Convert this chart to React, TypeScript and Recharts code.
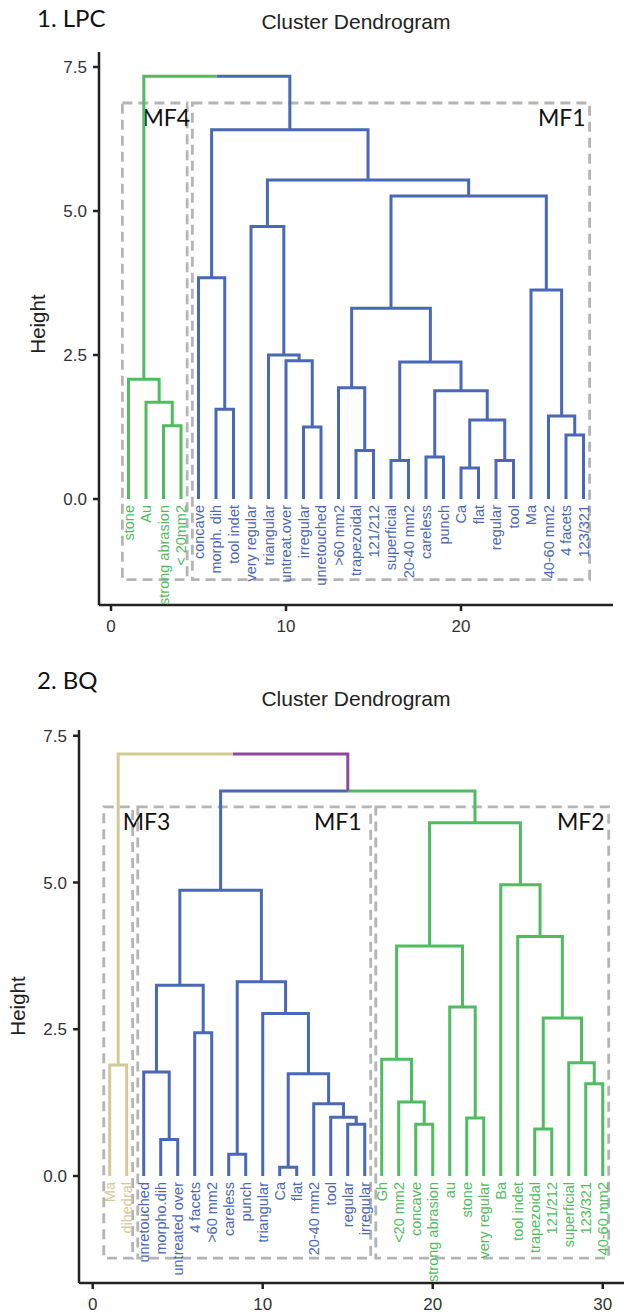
import React from 'react';
import { ComposedChart, Line, Scatter, XAxis, YAxis, ReferenceArea } from 'recharts';

type Merge = [number, number, number];

// 1. LPC : leaves in plotted order, cluster of each leaf, merges (negative = leaf, positive = merge row)
const lpcLeaves = [
  'stone', 'Au', 'strong abrasion', '< 20mm2', 'concave', 'morph. dih', 'tool indet', 'very regular',
  'triangular', 'untreat.over', 'irregular', 'unretouched', '>60 mm2', 'trapezoidal', '121/212',
  'superficial', '20-40 mm2', 'careless', 'punch', 'Ca', 'flat', 'regular', 'tool', 'Ma',
  '40-60 mm2', '4 facets', '123/321',
];
const lpcGroups = [
  'MF4', 'MF4', 'MF4', 'MF4',
  'MF1', 'MF1', 'MF1', 'MF1', 'MF1', 'MF1', 'MF1', 'MF1', 'MF1', 'MF1', 'MF1', 'MF1',
  'MF1', 'MF1', 'MF1', 'MF1', 'MF1', 'MF1', 'MF1', 'MF1', 'MF1', 'MF1', 'MF1',
];
const lpcMerges: Merge[] = [
  [-3, -4, 1.27], [-2, 1, 1.68], [-1, 2, 2.08], [-6, -7, 1.56], [-5, 4, 3.84],
  [-11, -12, 1.25], [-10, 6, 2.4], [-9, 7, 2.5], [-8, 8, 4.73], [-14, -15, 0.84],
  [-13, 10, 1.93], [-16, -17, 0.67], [-18, -19, 0.73], [-20, -21, 0.54], [-22, -23, 0.67],
  [14, 15, 1.37], [13, 16, 1.88], [12, 17, 2.38], [11, 18, 3.31], [-26, -27, 1.11],
  [-25, 20, 1.44], [-24, 21, 3.63], [19, 22, 5.26], [9, 23, 5.54], [5, 24, 6.41],
  [3, 25, 7.34],
];

// 2. BQ
const bqLeaves = [
  'Ma', 'dihedral', 'unretouched', 'morpho.dih', 'untreated over', '4 facets', '>60 mm2', 'careless',
  'punch', 'triangular', 'Ca', 'flat', '20-40 mm2', 'tool', 'regular', 'irregular', 'Gh', '<20 mm2',
  'concave', 'strong abrasion', 'au', 'stone', 'very regular', 'Ba', 'tool indet', 'trapezoidal',
  '121/212', 'superficial', '123/321', '40-60 mm2',
];
const bqGroups = [
  'MF3', 'MF3',
  'MF1', 'MF1', 'MF1', 'MF1', 'MF1', 'MF1', 'MF1', 'MF1', 'MF1', 'MF1', 'MF1', 'MF1', 'MF1', 'MF1',
  'MF2', 'MF2', 'MF2', 'MF2', 'MF2', 'MF2', 'MF2', 'MF2', 'MF2', 'MF2', 'MF2', 'MF2', 'MF2', 'MF2',
];
const bqMerges: Merge[] = [
  [-1, -2, 1.89], [-4, -5, 0.62], [-3, 2, 1.77], [-6, -7, 2.44], [3, 4, 3.25],
  [-8, -9, 0.37], [-11, -12, 0.15], [-15, -16, 0.88], [-14, 8, 1.0], [-13, 9, 1.23],
  [7, 10, 1.74], [-10, 11, 2.77], [6, 12, 3.31], [5, 13, 4.87], [-19, -20, 0.88],
  [-18, 15, 1.26], [-17, 16, 1.99], [-22, -23, 0.99], [-21, 18, 2.88], [17, 19, 3.92],
  [-26, -27, 0.8], [-29, -30, 1.57], [-28, 22, 1.93], [21, 23, 2.69], [-25, 24, 4.08],
  [-24, 25, 4.96], [20, 26, 6.02], [14, 27, 6.56], [1, 28, 7.19],
];

const yTicks = [0, 2.5, 5, 7.5];
const lpcXTicks = [0, 10, 20];
const bqXTicks = [0, 10, 20, 30];

const GREEN = '#50BC60';
const BLUE = '#4A68B8';
const KHAKI = '#D1CB98';
const PURPLE = '#8E48A0';
const GRAY = '#B5B5B5';
const SANS = '"Liberation Sans", Arial, Helvetica, sans-serif';
const MYRIAD = 'Lato, "Open Sans", sans-serif';

type Pt = { x: number; y: number };
type Seg = { color: string; pts: Pt[] };

function buildSegments(merges: Merge[], groups: string[], colors: Record<string, string>, mixed: string) {
  const pos: number[] = [];
  const sets: number[][] = [];
  const cPos = (c: number) => (c < 0 ? -c : pos[c - 1]);
  const cH = (c: number) => (c < 0 ? 0 : merges[c - 1][2]);
  const cLeaves = (c: number) => (c < 0 ? [-c] : sets[c - 1]);
  const cColor = (c: number) => {
    const ls = cLeaves(c);
    const g = groups[ls[0] - 1];
    return ls.every((l) => groups[l - 1] === g) ? colors[g] : mixed;
  };
  const segs: Seg[] = [];
  merges.forEach(([a, b, h]) => {
    const xa = cPos(a);
    const xb = cPos(b);
    const xm = (xa + xb) / 2;
    const ca = cColor(a);
    const cb = cColor(b);
    if (ca === cb) {
      segs.push({ color: ca, pts: [{ x: xa, y: cH(a) }, { x: xa, y: h }, { x: xb, y: h }, { x: xb, y: cH(b) }] });
    } else {
      segs.push({ color: ca, pts: [{ x: xa, y: cH(a) }, { x: xa, y: h }, { x: xm, y: h }] });
      segs.push({ color: cb, pts: [{ x: xm, y: h }, { x: xb, y: h }, { x: xb, y: cH(b) }] });
    }
    pos.push(xm);
    sets.push([...cLeaves(a), ...cLeaves(b)]);
  });
  return segs;
}

function clusterBoxes(groups: string[], merges: Merge[]) {
  const names = Array.from(new Set(groups));
  const hs = merges.map((m) => m[2]).sort((p, q) => p - q);
  const n = hs.length;
  const k = names.length;
  const top = (hs[n - k] + hs[n - k + 1]) / 2;
  return names.map((name) => {
    const idx = groups.map((g, i) => (g === name ? i + 1 : -1)).filter((i) => i > 0);
    return { name, x1: Math.min(...idx) - 0.35, x2: Math.max(...idx) + 0.35, top };
  });
}

const LeafLabel = (props: any) => {
  const { cx, cy, payload } = props;
  const y = cy + 6;
  return (
    <text
      x={cx}
      y={y}
      transform={`rotate(-90 ${cx} ${y})`}
      textAnchor="end"
      dy="0.36em"
      fill={payload.color}
      fontSize={14.5}
      fontFamily={SANS}
    >
      {payload.name}
    </text>
  );
};

type Props = {
  leaves: string[];
  groups: string[];
  merges: Merge[];
  colors: Record<string, string>;
  mixed: string;
  xTicks: number[];
  xDomain: [number, number];
  yDomain: [number, number];
  margin: { top: number; right: number; bottom: number; left: number };
  yAxisWidth: number;
  xAxisHeight: number;
  labelSide: Record<string, { side: 'left' | 'right'; dx: number }>;
};

function Dendro(p: Props) {
  const segs = buildSegments(p.merges, p.groups, p.colors, p.mixed);
  const boxes = clusterBoxes(p.groups, p.merges);
  const leafPts = p.leaves.map((name, i) => ({ x: i + 1, y: 0, name, color: p.colors[p.groups[i]] }));
  const axisStyle = { stroke: '#222', strokeWidth: 2.5 };
  return (
    <ComposedChart width={624} height={657} margin={p.margin}>
      <XAxis
        type="number"
        dataKey="x"
        domain={p.xDomain}
        allowDataOverflow
        ticks={p.xTicks}
        height={p.xAxisHeight}
        axisLine={axisStyle}
        tickLine={axisStyle}
        tickSize={6}
        tickMargin={9}
        tick={{ fill: '#333', fontSize: 17, fontFamily: SANS }}
        interval={0}
      />
      <YAxis
        type="number"
        dataKey="y"
        domain={p.yDomain}
        allowDataOverflow
        ticks={yTicks}
        width={p.yAxisWidth}
        axisLine={axisStyle}
        tickLine={axisStyle}
        tickSize={6}
        tickMargin={6}
        tickFormatter={(v: number) => v.toFixed(1)}
        tick={{ fill: '#333', fontSize: 17, fontFamily: SANS }}
        interval={0}
      />
      {boxes.map((b) => {
        const spec = p.labelSide[b.name];
        return (
          <ReferenceArea
            key={b.name}
            x1={b.x1}
            x2={b.x2}
            y1={-1.4}
            y2={b.top}
            fill="none"
            fillOpacity={0}
            stroke={GRAY}
            strokeWidth={2.8}
            strokeDasharray="10 6"
            label={(lp: any) => {
              const vb = lp.viewBox;
              const x = spec.side === 'left' ? vb.x + spec.dx : vb.x + vb.width + spec.dx;
              return (
                <text
                  x={x}
                  y={vb.y + 23}
                  textAnchor={spec.side === 'left' ? 'start' : 'end'}
                  fontSize={23}
                  fontFamily={MYRIAD}
                  fill="#111"
                >
                  {b.name}
                </text>
              );
            }}
          />
        );
      })}
      {segs.map((s, i) => (
        <Line
          key={i}
          data={s.pts}
          dataKey="y"
          type="linear"
          stroke={s.color}
          strokeWidth={3}
          dot={false}
          activeDot={false}
          isAnimationActive={false}
          strokeLinejoin="miter"
        />
      ))}
      <Scatter data={leafPts} dataKey="y" shape={LeafLabel} isAnimationActive={false} />
    </ComposedChart>
  );
}

function Overlay({ tag, tagBaseline, titleBaseline, heightX, heightY }: { tag: string; tagBaseline: number; titleBaseline: number; heightX: number; heightY: number }) {
  return (
    <svg width={624} height={657} style={{ position: 'absolute', left: 0, top: 0, pointerEvents: 'none' }}>
      <text x={37} y={tagBaseline} fontSize={24} fontFamily={MYRIAD} fill="#111">{tag}</text>
      <text x={356} y={titleBaseline} textAnchor="middle" fontSize={21} fontFamily={SANS} fill="#222">Cluster Dendrogram</text>
      <text
        x={heightX}
        y={heightY}
        textAnchor="middle"
        transform={`rotate(-90 ${heightX} ${heightY})`}
        fontSize={20.5}
        fontFamily={SANS}
        fill="#222"
      >
        Height
      </text>
    </svg>
  );
}

export default function App() {
  return (
    <div style={{ position: 'absolute', left: 0, top: 0, width: 624, height: 1314, background: '#fff' }}>
      <div style={{ position: 'absolute', left: 0, top: 0, width: 624, height: 657 }}>
        <Dendro
          leaves={lpcLeaves}
          groups={lpcGroups}
          merges={lpcMerges}
          colors={{ MF4: GREEN, MF1: BLUE }}
          mixed={PURPLE}
          xTicks={lpcXTicks}
          xDomain={[-0.686, 28.686]}
          yDomain={[-1.84, 7.76]}
          margin={{ top: 52, right: 11, bottom: 12, left: 0 }}
          yAxisWidth={99}
          xAxisHeight={40}
          labelSide={{ MF4: { side: 'left', dx: 20 }, MF1: { side: 'right', dx: -4 } }}
        />
        <Overlay tag="1. LPC" tagBaseline={27} titleBaseline={29} heightX={45} heightY={324} />
      </div>
      <div style={{ position: 'absolute', left: 0, top: 657, width: 624, height: 657 }}>
        <Dendro
          leaves={bqLeaves}
          groups={bqGroups}
          merges={bqMerges}
          colors={{ MF3: KHAKI, MF1: BLUE, MF2: GREEN }}
          mixed={PURPLE}
          xTicks={bqXTicks}
          xDomain={[-0.806, 31.25]}
          yDomain={[-1.823, 7.598]}
          margin={{ top: 73, right: 0, bottom: 0, left: 0 }}
          yAxisWidth={79}
          xAxisHeight={31}
          labelSide={{ MF3: { side: 'left', dx: 19 }, MF1: { side: 'right', dx: -9 }, MF2: { side: 'right', dx: -4 } }}
        />
        <Overlay tag="2. BQ" tagBaseline={32} titleBaseline={49} heightX={25} heightY={349} />
      </div>
    </div>
  );
}
